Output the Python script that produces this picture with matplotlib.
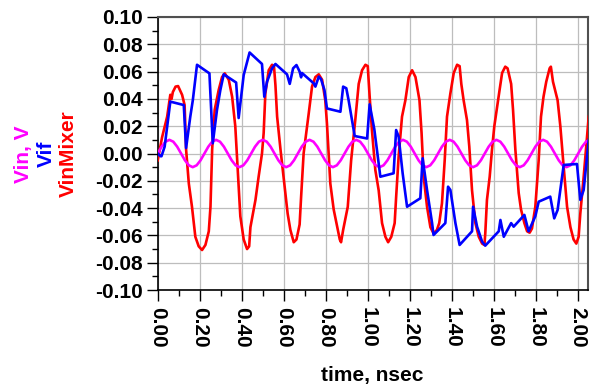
import numpy as np
import matplotlib
matplotlib.use("Agg")
import matplotlib.pyplot as plt
from matplotlib.ticker import MultipleLocator, FormatStrFormatter

# ---- data -------------------------------------------------------------
# Vin: input tone sampled every 1/54 ns
vin = [
    0.0, 0.005, 0.00866, 0.01, 0.00866, 0.005, 0.0, -0.005, -0.00866, -0.01, -0.00866, -0.005,
    0.0, 0.005, 0.00866, 0.01, 0.00866, 0.005, 0.0, -0.005, -0.00866, -0.01, -0.00866, -0.005,
    0.0, 0.005, 0.00866, 0.01, 0.00866, 0.005, 0.0, -0.005, -0.00866, -0.01, -0.00866, -0.005,
    0.0, 0.005, 0.00866, 0.01, 0.00866, 0.005, 0.0, -0.005, -0.00866, -0.01, -0.00866, -0.005,
    0.0, 0.005, 0.00866, 0.01, 0.00866, 0.005, 0.0, -0.005, -0.00866, -0.01, -0.00866, -0.005,
    0.0, 0.005, 0.00866, 0.01, 0.00866, 0.005, 0.0, -0.005, -0.00866, -0.01, -0.00866, -0.005,
    0.0, 0.005, 0.00866, 0.01, 0.00866, 0.005, 0.0, -0.005, -0.00866, -0.01, -0.00866, -0.005,
    0.0, 0.005, 0.00866, 0.01, 0.00866, 0.005, 0.0, -0.005, -0.00866, -0.01, -0.00866, -0.005,
    0.0, 0.005, 0.00866, 0.01, 0.00866, 0.005, 0.0, -0.005, -0.00866, -0.01, -0.00866, -0.005,
    0.0, 0.005, 0.00866, 0.01,
]
vin_time = np.arange(len(vin)) / 54.0

# Vif: IF output (time in ns, volts)
vif_time = [
    0.000, 0.013, 0.018, 0.033, 0.060, 0.124, 0.135, 0.155, 0.167, 0.187,
    0.246, 0.262, 0.282, 0.298, 0.314, 0.373, 0.385, 0.409, 0.437, 0.496,
    0.507, 0.520, 0.544, 0.560, 0.615, 0.628, 0.644, 0.660, 0.675, 0.682,
    0.686, 0.742, 0.750, 0.766, 0.777, 0.793, 0.805, 0.869, 0.882, 0.897,
    0.908, 0.937, 0.996, 1.008, 1.030, 1.059, 1.122, 1.134, 1.146, 1.165,
    1.186, 1.249, 1.260, 1.281, 1.305, 1.312, 1.368, 1.381, 1.392, 1.416,
    1.436, 1.495, 1.500, 1.519, 1.543, 1.558, 1.622, 1.630, 1.646, 1.681,
    1.693, 1.744, 1.764, 1.796, 1.812, 1.867, 1.886, 1.902, 1.931, 1.994,
    2.010, 2.026, 2.050,
]
vif = [
    0.000, -0.002, -0.002, 0.005, 0.038, 0.0355, 0.004, 0.027, 0.039, 0.065,
    0.0587, 0.0075, 0.032, 0.0465, 0.058, 0.052, 0.026, 0.0575, 0.074, 0.0656,
    0.0416, 0.0526, 0.0624, 0.0656, 0.058, 0.051, 0.0624, 0.0648, 0.060, 0.0558,
    0.059, 0.0514, 0.049, 0.0563, 0.0544, 0.0465, 0.033, 0.0306, 0.049, 0.0478,
    0.039, 0.0128, 0.011, 0.036, 0.018, -0.017, -0.0145, 0.0172, 0.0123, -0.0145,
    -0.039, -0.0328, -0.0035, -0.0267, -0.051, -0.0597, -0.051, -0.0243, -0.0267, -0.051,
    -0.067, -0.057, -0.039, -0.0536, -0.0646, -0.0675, -0.057, -0.0487, -0.061, -0.051,
    -0.0536, -0.045, -0.057, -0.046, -0.0353, -0.0316, -0.0475, -0.0414, -0.0084, -0.0077,
    -0.034, -0.0267, 0.010,
]

# VinMixer: signal at the mixer input (time in ns, volts)
vmix_time = [
    0.000, 0.021, 0.045, 0.060, 0.066, 0.072, 0.085, 0.097, 0.116, 0.128,
    0.135, 0.148, 0.163, 0.179, 0.195, 0.211, 0.227, 0.243, 0.251, 0.259,
    0.271, 0.290, 0.306, 0.319, 0.338, 0.354, 0.369, 0.378, 0.393, 0.409,
    0.425, 0.435, 0.441, 0.465, 0.480, 0.496, 0.504, 0.512, 0.528, 0.544,
    0.553, 0.560, 0.568, 0.584, 0.602, 0.618, 0.631, 0.647, 0.660, 0.675,
    0.682, 0.694, 0.718, 0.734, 0.750, 0.766, 0.782, 0.797, 0.805, 0.821,
    0.837, 0.850, 0.866, 0.872, 0.882, 0.904, 0.920, 0.940, 0.956, 0.972,
    0.988, 0.999, 1.008, 1.019, 1.035, 1.051, 1.067, 1.083, 1.096, 1.111,
    1.127, 1.134, 1.146, 1.162, 1.178, 1.194, 1.210, 1.226, 1.245, 1.255,
    1.265, 1.281, 1.297, 1.312, 1.328, 1.339, 1.352, 1.365, 1.376, 1.392,
    1.408, 1.424, 1.436, 1.444, 1.455, 1.471, 1.482, 1.495, 1.511, 1.527,
    1.543, 1.554, 1.558, 1.566, 1.579, 1.590, 1.601, 1.614, 1.626, 1.638,
    1.653, 1.664, 1.681, 1.690, 1.701, 1.717, 1.728, 1.744, 1.757, 1.769,
    1.780, 1.796, 1.812, 1.823, 1.835, 1.848, 1.864, 1.870, 1.880, 1.902,
    1.915, 1.931, 1.947, 1.963, 1.978, 1.991, 2.002, 2.010, 2.026, 2.042,
    2.050,
]
vmix = [
    -0.005, 0.012, 0.027, 0.043, 0.040, 0.045, 0.049, 0.0494, 0.043, 0.0355,
    0.003, -0.022, -0.039, -0.061, -0.068, -0.0707, -0.067, -0.057, -0.039, 0.003,
    0.032, 0.0465, 0.056, 0.0587, 0.054, 0.0416, 0.020, -0.005, -0.046, -0.063,
    -0.070, -0.068, -0.054, -0.034, -0.017, 0.000, 0.015, 0.044, 0.061, 0.065,
    0.064, 0.050, 0.027, 0.003, -0.022, -0.044, -0.056, -0.065, -0.063, -0.052,
    -0.032, 0.000, 0.029, 0.049, 0.056, 0.058, 0.054, 0.039, 0.022, -0.022,
    -0.041, -0.051, -0.063, -0.065, -0.056, -0.039, -0.005, 0.025, 0.051, 0.061,
    0.065, 0.064, 0.042, 0.017, -0.012, -0.027, -0.051, -0.061, -0.065, -0.061,
    -0.051, -0.032, -0.002, 0.027, 0.039, 0.056, 0.061, 0.056, 0.039, 0.015,
    -0.017, -0.039, -0.054, -0.0585, -0.056, -0.051, -0.0365, -0.005, 0.027, 0.044,
    0.059, 0.065, 0.064, 0.051, 0.039, 0.0245, 0.005, -0.027, -0.051, -0.061,
    -0.066, -0.067, -0.0585, -0.034, -0.017, 0.003, 0.020, 0.034, 0.0465, 0.059,
    0.0636, 0.0624, 0.051, 0.032, 0.003, -0.029, -0.041, -0.051, -0.057, -0.058,
    -0.055, -0.039, -0.005, 0.027, 0.0416, 0.0526, 0.0624, 0.0636, 0.0526, 0.039,
    0.020, -0.010, -0.039, -0.054, -0.063, -0.066, -0.061, -0.044, -0.017, 0.012,
    0.027,
]

x_ticks = [0.0, 0.2, 0.4, 0.6, 0.8, 1.0, 1.2, 1.4, 1.6, 1.8, 2.0]
y_ticks = [-0.10, -0.08, -0.06, -0.04, -0.02, 0.00, 0.02, 0.04, 0.06, 0.08, 0.10]

# ---- figure -----------------------------------------------------------
plt.rcParams["font.family"] = ["Liberation Sans", "DejaVu Sans"]
plt.rcParams["font.weight"] = "bold"

W, H = 593, 385
fig = plt.figure(figsize=(W / 100, H / 100), dpi=100)
ax = fig.add_axes([157.7 / W, 1 - 290 / H, (588.3 - 157.7) / W, (290 - 17) / H])

lw = 1.9
ax.plot(vmix_time, vmix, color="#FF0000", lw=lw, zorder=3)
ax.plot(vin_time, vin, color="#FF00FF", lw=lw, zorder=4)
ax.plot(vif_time, vif, color="#0000FF", lw=lw, zorder=5)

ax.set_xlim(0, 2.048)
ax.set_ylim(-0.10, 0.10)
ax.set_xticks(x_ticks)
ax.set_yticks(y_ticks)
ax.xaxis.set_minor_locator(MultipleLocator(0.1))
ax.yaxis.set_minor_locator(MultipleLocator(0.01))
ax.xaxis.set_major_formatter(FormatStrFormatter("%.2f"))
ax.yaxis.set_major_formatter(FormatStrFormatter("%.2f"))

ax.grid(True, which="major", color="#bdbdbd", lw=0.9, zorder=1)
ax.tick_params(which="major", direction="out", length=8, width=1.0,
               labelsize=15, pad=2.5, color="black")
ax.tick_params(which="minor", direction="out", length=4, width=1.0, color="black")
ax.tick_params(axis="x", which="major", labelrotation=270, pad=4)
for lab in ax.get_xticklabels():
    lab.set_va("top")
    lab.set_fontweight("bold")
for lab in ax.get_yticklabels():
    lab.set_fontweight("bold")

for side in ("left", "bottom"):
    ax.spines[side].set_color("black")
    ax.spines[side].set_linewidth(1.2)
for side in ("top", "right"):
    ax.spines[side].set_color("#505050")
    ax.spines[side].set_linewidth(1.5)

# stacked, colour-coded y-axis titles
ylab_y = 1 - 154 / H
fig.text(23 / W, ylab_y, "Vin, V", color="#FF00FF", rotation=90,
         ha="center", va="center", fontsize=15, fontweight="bold")
fig.text(46 / W, ylab_y, "Vif", color="#0000FF", rotation=90,
         ha="center", va="center", fontsize=15, fontweight="bold")
fig.text(68 / W, ylab_y, "VinMixer", color="#FF0000", rotation=90,
         ha="center", va="center", fontsize=15, fontweight="bold")

fig.text(372.5 / W, 1 - 375 / H, "time, nsec", color="black",
         ha="center", va="center", fontsize=15, fontweight="bold")

fig.savefig("out.png", dpi=100)
